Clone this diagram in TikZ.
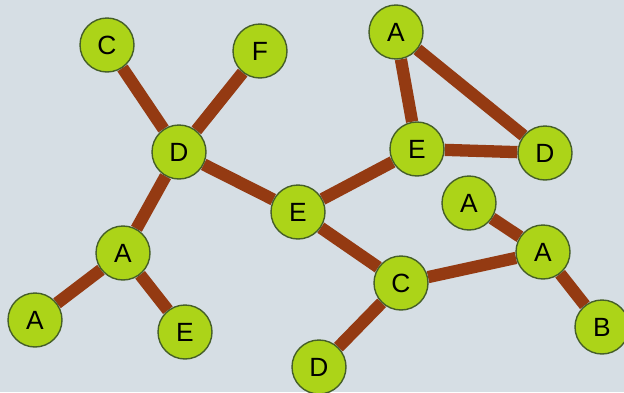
\documentclass[tikz,border=0pt]{standalone}
\usepackage{fontspec}
\setmainfont{Liberation Sans}
\usetikzlibrary{backgrounds}
\definecolor{screen}{RGB}{214,222,228}
\definecolor{vertex}{RGB}{172,212,24}
\definecolor{rim}{RGB}{70,95,40}
\definecolor{link}{RGB}{148,58,18}

\begin{document}
\begin{tikzpicture}[
    x=0.02cm, y=-0.02cm,
    vertex/.style={circle, draw=rim, line width=0.8pt, fill=vertex, minimum size=1.08cm, inner sep=0pt, font=\fontsize{15}{17}\selectfont},
    link/.style={line width=7pt, draw=link},
    every node/.style={align=center}
]
\useasboundingbox (0,0) rectangle (624,392);

% Left tree
\node[vertex] (ctop) at (107,45) {C};
\node[vertex] (ftop) at (260,51) {F};
\node[vertex] (dhub) at (179,152) {D};
\node[vertex] (aleft) at (123,253) {A};
\node[vertex] (afar) at (35,320) {A};
\node[vertex] (ebot) at (185,332) {E};

% Middle
\node[vertex] (emid) at (298,212) {E};
\node[vertex] (cmid) at (401,283) {C};
\node[vertex] (dbot) at (319,367) {D};

% Triangle
\node[vertex] (atri) at (396,32) {A};
\node[vertex] (etri) at (417,149) {E};
\node[vertex] (dtri) at (545,153) {D};

% Right branch
\node[vertex] (asmall) at (469,203) {A};
\node[vertex] (aright) at (543,252) {A};
\node[vertex] (bend) at (602,327) {B};

% Screen and links behind the vertices
\begin{scope}[on background layer]
\fill[screen] (0,0) rectangle (624,392);
\draw[link] (ctop) -- (dhub);
\draw[link] (ftop) -- (dhub);
\draw[link] (dhub) -- (aleft);
\draw[link] (aleft) -- (afar);
\draw[link] (aleft) -- (ebot);
\draw[link] (dhub) -- (emid);
\draw[link] (emid) -- (etri);
\draw[link] (emid) -- (cmid);
\draw[link] (cmid) -- (dbot);
\draw[link] (cmid) -- (aright);
\draw[link] (asmall) -- (aright);
\draw[link] (aright) -- (bend);
\draw[link] (atri) -- (etri);
\draw[link] (atri) -- (dtri);
\draw[link] (etri) -- (dtri);
\end{scope}

\end{tikzpicture}
\end{document}
